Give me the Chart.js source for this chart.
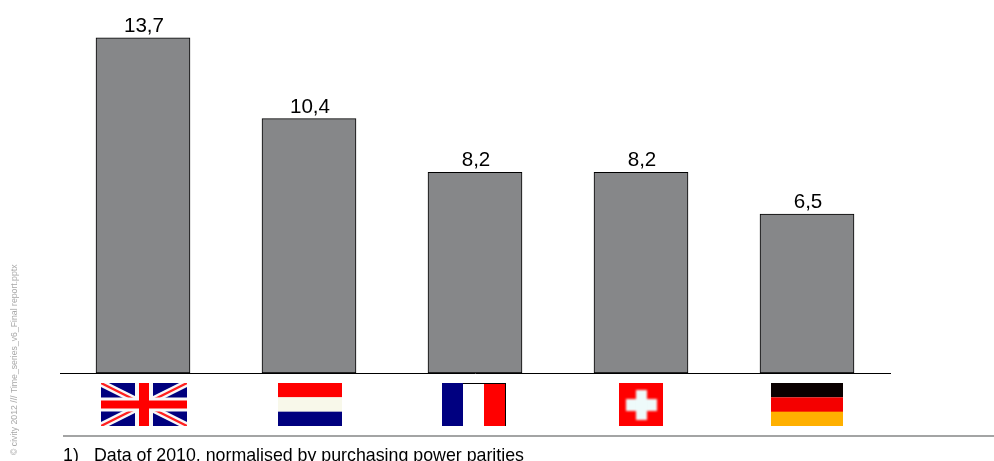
<!DOCTYPE html>
<html>
<head>
<meta charset="utf-8">
<script src="https://cdn.jsdelivr.net/npm/chart.js@4/dist/chart.umd.min.js"></script>
<style>
  html, body { margin: 0; padding: 0; background: #fff; overflow: hidden; }
  #wrap { position: relative; width: 994px; height: 461px; }
</style>
</head>
<body>
<div id="wrap"><canvas id="costChart" width="994" height="461"></canvas></div>
<script>
var countries = ['UK', 'NL', 'FR', 'CH', 'DE'];
var values = [13.7, 10.4, 8.2, 8.2, 6.5];
var footnoteNumber = '1)';
var footnoteText = 'Data of 2010, normalised by purchasing power parities';
var sideNote = '\u00a9 civity 2012 /// Time_series_v6_Final report.pptx';

var FONT = '"Liberation Sans", Arial, sans-serif';

// flags, drawn centred under each bar
function stripesH(c, x, y, w, h, cols) {
  var s = h / cols.length;
  c.save();
  c.beginPath(); c.rect(x, y, w, h); c.clip();
  c.filter = 'blur(0.5px)';
  cols.forEach(function (col, i) {
    c.fillStyle = col;
    c.fillRect(x - 3, y + i * s - (i == 0 ? 3 : 0), w + 6, s + 3);
  });
  c.restore();
}

var flags = {
  UK: { w: 86, dx: 1, draw: function (c, x, y, w, h) {
    c.save();
    c.beginPath(); c.rect(x, y, w, h); c.clip();
    c.fillStyle = '#00007e';
    c.fillRect(x, y, w, h);
    c.filter = 'blur(0.7px)';
    c.strokeStyle = '#f8f8f8'; c.lineWidth = 7;
    c.beginPath();
    c.moveTo(x, y); c.lineTo(x + w, y + h);
    c.moveTo(x + w, y); c.lineTo(x, y + h);
    c.stroke();
    c.strokeStyle = '#ff2020'; c.lineWidth = 2.5;
    c.beginPath();
    c.moveTo(x, y); c.lineTo(x + w, y + h);
    c.moveTo(x + w, y); c.lineTo(x, y + h);
    c.stroke();
    c.fillStyle = '#f8f8f8';
    c.fillRect(x - 3, y + h / 2 - 7, w + 6, 14);
    c.fillRect(x + w / 2 - 9, y - 3, 18, h + 6);
    c.fillStyle = '#ff0000';
    c.fillRect(x - 3, y + h / 2 - 4, w + 6, 8);
    c.fillRect(x + w / 2 - 5, y - 3, 10, h + 6);
    c.restore();
  } },
  NL: { w: 64, dx: 1, draw: function (c, x, y, w, h) {
    stripesH(c, x, y, w, h, ['#ff0000', '#f8f8ea', '#00007e']);
  } },
  FR: { w: 64, dx: -1, draw: function (c, x, y, w, h) {
    c.fillStyle = '#000080'; c.fillRect(x, y, 21, h);
    c.fillStyle = '#ffffff'; c.fillRect(x + 21, y, 21, h);
    c.fillStyle = '#ff0000'; c.fillRect(x + 42, y, 22, h);
    c.fillStyle = '#000000';
    c.fillRect(x + 21, y, 43, 1);
    c.fillRect(x + 63, y, 1, h);
  } },
  CH: { w: 44, dx: 0, draw: function (c, x, y, w, h) {
    c.fillStyle = '#ff0000'; c.fillRect(x, y, w, h);
    c.save();
    c.filter = 'blur(0.8px)';
    c.fillStyle = '#eefafa';
    c.fillRect(x + 7, y + 16, 31, 12);
    c.fillRect(x + 17, y + 7, 11, 30);
    c.restore();
  } },
  DE: { w: 72, dx: 0, draw: function (c, x, y, w, h) {
    stripesH(c, x, y, w, h, ['#0a0000', '#f40000', '#ffb000']);
  } }
};

var decorPlugin = {
  id: 'decor',
  afterDatasetsDraw: function (chart) {
    var c = chart.ctx, xs = chart.scales.x, ys = chart.scales.y;
    c.save();

    // value labels over the bars, decimal comma
    c.fillStyle = '#000';
    c.font = '20.6px ' + FONT;
    c.textAlign = 'center';
    c.textBaseline = 'alphabetic';
    values.forEach(function (v, i) {
      c.fillText(String(v).replace('.', ','), xs.getPixelForValue(i) + 1, ys.getPixelForValue(v) - 6);
    });

    // flag row
    countries.forEach(function (name, i) {
      var f = flags[name];
      var x = Math.round(xs.getPixelForValue(i) - f.w / 2) + f.dx;
      f.draw(c, x, 383, f.w, 43);
    });

    // rule and footnote
    c.fillStyle = '#a3a4a4';
    c.fillRect(63, 435, 931, 2);
    c.fillStyle = '#000';
    c.font = '17.8px ' + FONT;
    c.textAlign = 'left';
    c.fillText(footnoteNumber, 63, 461);
    c.fillText(footnoteText, 94, 461);

    // file stamp up the left edge
    c.translate(17, 455);
    c.rotate(-Math.PI / 2);
    c.fillStyle = '#a8a8a8';
    c.font = '8.7px ' + FONT;
    c.fillText(sideNote, 0, 0);
    c.restore();
  }
};

new Chart(document.getElementById('costChart'), {
  type: 'bar',
  data: {
    labels: countries,
    datasets: [{
      data: values,
      backgroundColor: '#868789',
      borderColor: '#000',
      borderWidth: 1,
      borderSkipped: false,
      barThickness: 94
    }]
  },
  options: {
    responsive: false,
    animation: false,
    layout: { padding: { left: 60, right: 104, top: 6, bottom: 88 } },
    plugins: { legend: { display: false }, title: { display: false }, tooltip: { enabled: false } },
    scales: {
      x: {
        ticks: { display: false },
        grid: { display: false, drawTicks: false },
        border: { color: '#000', width: 1 }
      },
      y: {
        display: false,
        min: 0,
        max: 15
      }
    }
  },
  plugins: [decorPlugin]
});
</script>
</body>
</html>
